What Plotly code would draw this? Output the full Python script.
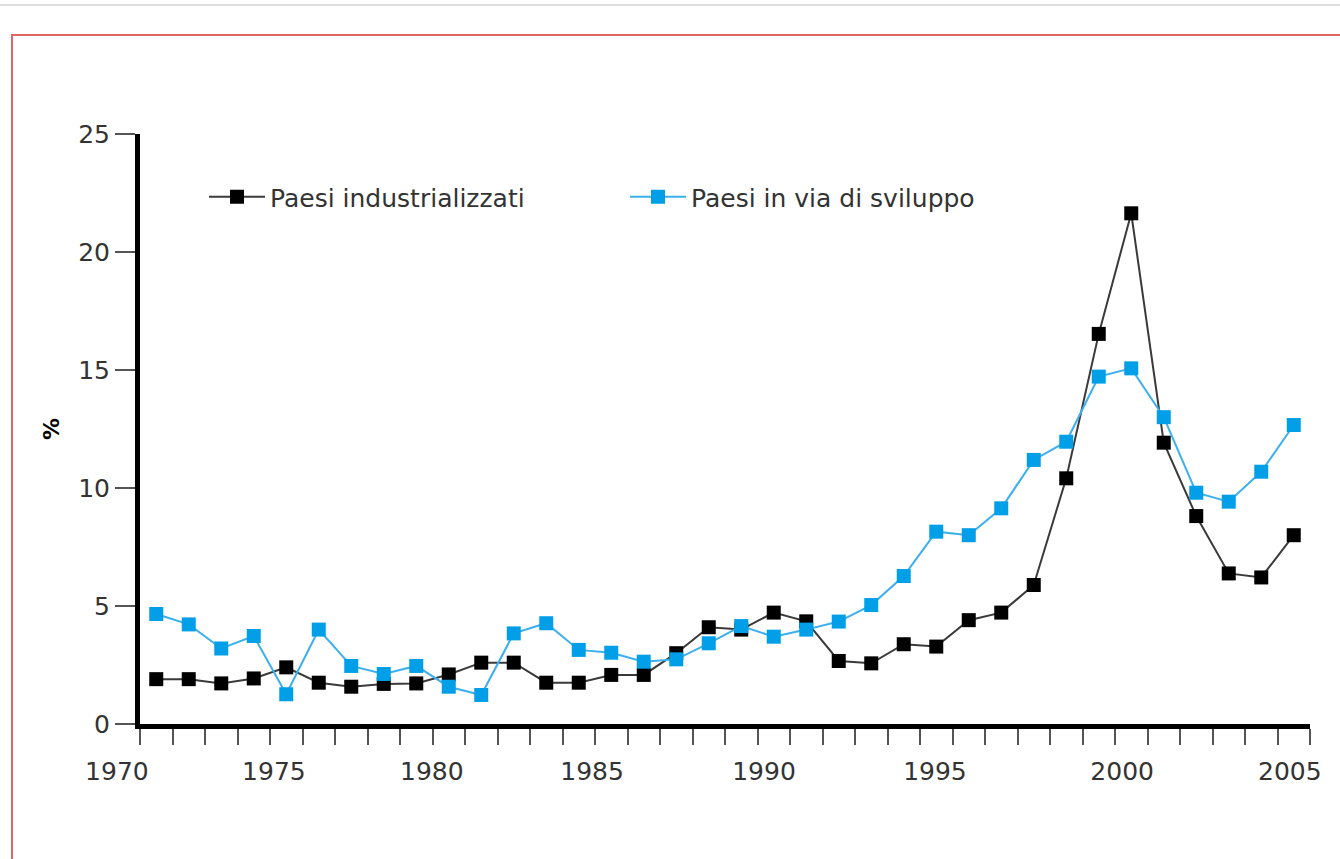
import plotly.graph_objects as go

# ---- data ----
years = list(range(1970, 2006))
industrializzati = [1.90, 1.90, 1.72, 1.93, 2.40, 1.75, 1.58, 1.70, 1.72, 2.10,
                    2.60, 2.60, 1.75, 1.75, 2.08, 2.08, 3.00, 4.10, 4.00, 4.72,
                    4.35, 2.67, 2.57, 3.38, 3.28, 4.40, 4.72, 5.89, 10.41, 16.53,
                    21.64, 11.92, 8.81, 6.38, 6.21, 8.00]
in_via_di_sviluppo = [4.66, 4.22, 3.20, 3.73, 1.26, 4.00, 2.46, 2.12, 2.46, 1.58,
                      1.23, 3.84, 4.27, 3.14, 3.02, 2.64, 2.74, 3.42, 4.15, 3.70,
                      4.00, 4.34, 5.04, 6.27, 8.15, 8.00, 9.14, 11.19, 11.96, 14.72,
                      15.07, 13.00, 9.80, 9.42, 10.69, 12.67]
series_names = ["Paesi industrializzati", "Paesi in via di sviluppo"]
x_tick_labels = ["1970", "1975", "1980", "1985", "1990", "1995", "2000", "2005"]
x_label_pos = [1969.29, 1974.12, 1978.98, 1983.91, 1989.2, 1994.46, 2000.22, 2005.38]
y_ticks = [0, 5, 10, 15, 20, 25]

# ---- layout geometry (pixels) ----
W, H = 1340, 859
ML, MR, MT, MB = 60, 0, 134, 135
AX_L, AX_R = 140, 1310           # x axis pixel span
X0, X1 = 1970, 2006
PW = W - ML - MR
PH = H - MT - MB
pxyr = (AX_R - AX_L) / (X1 - X0)

def px_x(p):
    return (p - ML) / PW

def px_y(p):
    return (H - MB - p) / PH

FONT = "DejaVu Sans"
xs = [y + 0.5 for y in years]

fig = go.Figure()
fig.add_trace(go.Scatter(
    x=xs, y=industrializzati, name=series_names[0], mode="lines+markers",
    line=dict(color="#3a3a3a", width=2),
    marker=dict(symbol="square", size=14, color="#000000", line=dict(width=0)),
))
fig.add_trace(go.Scatter(
    x=xs, y=in_via_di_sviluppo, name=series_names[1], mode="lines+markers",
    line=dict(color="#3cb0ee", width=2),
    marker=dict(symbol="square", size=14, color="#009fe8", line=dict(width=0)),
))
# invisible trace so the label axis (xaxis2) is rendered
fig.add_trace(go.Scatter(x=[X0], y=[0], xaxis="x2", yaxis="y", mode="markers",
                         marker=dict(opacity=0), showlegend=False, hoverinfo="skip"))

fig.update_layout(
    width=W, height=H,
    margin=dict(l=ML, r=MR, t=MT, b=MB, autoexpand=False),
    paper_bgcolor="white", plot_bgcolor="rgba(0,0,0,0)",
    font=dict(family=FONT, size=25, color="#333333"),
    showlegend=True,
    legend=dict(
        orientation="h", x=px_x(204), y=px_y(197), xanchor="left", yanchor="middle",
        font=dict(family=FONT, size=25, color="#333333"),
        bgcolor="rgba(0,0,0,0)", entrywidth=350, entrywidthmode="pixels",
        itemwidth=56,
    ),
    xaxis=dict(
        domain=[px_x(AX_L), px_x(AX_R)], range=[X0, X1],
        tickmode="linear", tick0=X0, dtick=1,
        ticks="outside", ticklen=16, tickwidth=1.5, tickcolor="#555555",
        showticklabels=False, showgrid=False, zeroline=False,
        showline=True, linewidth=5, linecolor="#000000",
        anchor="y",
    ),
    xaxis2=dict(
        domain=[0, 1],
        range=[X0 - (AX_L - ML) / pxyr, X1 + (W - MR - AX_R) / pxyr],
        tickmode="array", tickvals=x_label_pos, ticktext=x_tick_labels,
        ticks="", showgrid=False, zeroline=False, showline=False,
        tickfont=dict(family=FONT, size=25, color="#333333"),
        ticklabelstandoff=30,
        anchor="y",
    ),
    yaxis=dict(
        range=[0, 25], tickmode="array", tickvals=y_ticks,
        ticks="outside", ticklen=20, tickwidth=2, tickcolor="#555555",
        tickfont=dict(family=FONT, size=25, color="#333333"),
        showgrid=False, zeroline=False,
        showline=True, linewidth=5, linecolor="#000000",
        title=dict(text="<b>%</b>", font=dict(family=FONT, size=22, color="#000000"), standoff=14),
        anchor="x",
    ),
    shapes=[
        dict(type="rect", xref="paper", yref="paper",
             x0=px_x(12), x1=px_x(1360), y0=px_y(880), y1=px_y(35),
             line=dict(color="#e06666", width=2), fillcolor="rgba(0,0,0,0)", layer="below"),
        dict(type="line", xref="paper", yref="paper",
             x0=px_x(0), x1=px_x(1340), y0=px_y(5), y1=px_y(5),
             line=dict(color="#dddddd", width=2)),
    ],
)

fig.write_html("out.html", config={"displayModeBar": False},
               post_script="document.body.style.margin='0';")
